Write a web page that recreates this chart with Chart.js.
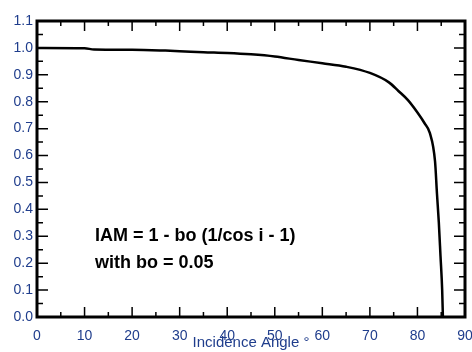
<!DOCTYPE html>
<html>
<head>
<meta charset="utf-8">
<script src="https://cdn.jsdelivr.net/npm/chart.js@4.4.0/dist/chart.umd.min.js"></script>
<style>
  html, body { margin: 0; padding: 0; background: #fff; }
  #wrap { width: 472px; height: 352px; }
</style>
</head>
<body>
<div id="wrap"><canvas id="iam-chart" width="472" height="352"></canvas></div>
<script>
// values
var angles = [0, 10, 12, 20, 27, 30, 35, 40, 45, 50, 55, 60, 65, 70, 74, 76, 78, 80, 81.5, 82.6, 83.7, 84.1, 84.5, 84.85, 85.2, 85.35];
var iam    = [1.000, 0.999, 0.994, 0.993, 0.990, 0.988, 0.984, 0.981, 0.976, 0.968, 0.955, 0.943, 0.930, 0.907, 0.872, 0.840, 0.806, 0.760, 0.720, 0.684, 0.578, 0.46, 0.35, 0.226, 0.10, 0.0];
var xTicks = [0, 10, 20, 30, 40, 50, 60, 70, 80, 90];
var yTicks = [0, 0.1, 0.2, 0.3, 0.4, 0.5, 0.6, 0.7, 0.8, 0.9, 1.0, 1.1];
var noteLines = ['IAM = 1 - bo (1/cos i - 1)', 'with bo = 0.05'];

var labelColor = '#1f3d8c';

var points = angles.map(function (a, i) { return { x: a, y: iam[i] }; });

// frame with inward tick marks on all four sides + the formula text
var framePlugin = {
    id: 'frame',
    afterDraw: function (chart) {
        var c = chart.ctx, a = chart.chartArea;
        var xs = chart.scales.x, ys = chart.scales.y;
        c.save();
        c.strokeStyle = '#000';
        c.lineWidth = 3;
        c.strokeRect(a.left, a.top, a.right - a.left, a.bottom - a.top);
        c.lineWidth = 1.5;
        c.beginPath();
        for (var v = 5; v < 90; v += 5) {
            var px = xs.getPixelForValue(v);
            var len = (v % 10 === 0) ? 10 : 5;
            c.moveTo(px, a.bottom); c.lineTo(px, a.bottom - len);
            c.moveTo(px, a.top); c.lineTo(px, a.top + len);
        }
        for (var k = 1; k < 22; k++) {
            var py = ys.getPixelForValue(k * 0.05);
            var l2 = (k % 2 === 0) ? 11 : 6;
            c.moveTo(a.left, py); c.lineTo(a.left + l2, py);
            c.moveTo(a.right, py); c.lineTo(a.right - l2, py);
        }
        c.stroke();

        c.fillStyle = '#000';
        c.font = 'bold 18px "Liberation Sans", Arial, sans-serif';
        c.textBaseline = 'alphabetic';
        c.fillText(noteLines[0], 95, 241);
        c.fillText(noteLines[1], 95, 268);
        c.restore();
    }
};

var ctx = document.getElementById('iam-chart').getContext('2d');
var iamChart = new Chart(ctx, {
    type: 'scatter',
    data: {
        datasets: [{
            label: 'IAM',
            data: points,
            showLine: true,
            borderColor: '#000',
            borderWidth: 2.5,
            pointRadius: 0,
            cubicInterpolationMode: 'monotone'
        }]
    },
    options: {
        responsive: false,
        animation: false,
        layout: { padding: { top: 21, right: 7, left: 0, bottom: 0 } },
        plugins: {
            legend: { display: false },
            tooltip: { enabled: false }
        },
        scales: {
            x: {
                type: 'linear',
                min: 0,
                max: 90,
                afterFit: function (s) { s.height = 35; s.paddingLeft = 0; s.paddingRight = 0; },
                afterBuildTicks: function (s) { s.ticks = xTicks.map(function (v) { return { value: v }; }); },
                grid: { display: false, drawTicks: false },
                border: { display: false },
                ticks: {
                    padding: 11,
                    color: labelColor,
                    font: { family: '"Liberation Sans", Arial, sans-serif', size: 14 },
                    maxRotation: 0
                },
                title: {
                    display: true,
                    text: 'Incidence Angle °',
                    color: labelColor,
                    font: { family: '"Liberation Sans", Arial, sans-serif', size: 15 },
                    padding: 0
                }
            },
            y: {
                type: 'linear',
                min: 0,
                max: 1.1,
                afterFit: function (s) { s.width = 37; s.paddingTop = 0; s.paddingBottom = 0; },
                afterBuildTicks: function (s) { s.ticks = yTicks.map(function (v) { return { value: v }; }); },
                grid: { display: false, drawTicks: false },
                border: { display: false },
                ticks: {
                    padding: 4,
                    color: labelColor,
                    font: { family: '"Liberation Sans", Arial, sans-serif', size: 14 },
                    callback: function (v) { return Number(v).toFixed(1); }
                }
            }
        }
    },
    plugins: [framePlugin]
});
</script>
</body>
</html>
